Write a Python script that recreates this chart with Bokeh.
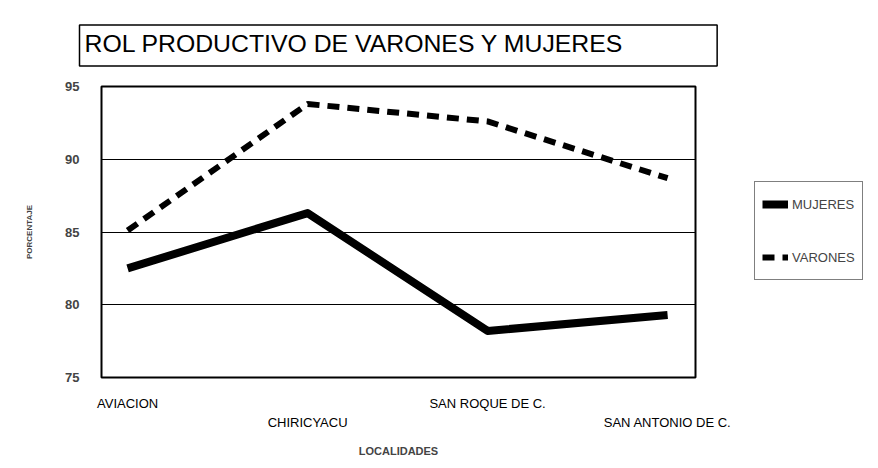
from bokeh.plotting import figure
from bokeh.models import (Range1d, FixedTicker, LinearAxis, Title, Legend, LegendItem)
from bokeh.embed import file_html
from bokeh.resources import INLINE

localidades = ["AVIACION", "CHIRICYACU", "SAN ROQUE DE C.", "SAN ANTONIO DE C."]
mujeres = [82.5, 86.3, 78.2, 79.3]
varones = [85.1, 93.8, 92.6, 88.7]
y_ticks = [75, 80, 85, 90, 95]
title_text = "ROL PRODUCTIVO DE VARONES Y MUJERES"

FONT = "Liberation Sans"
idx = list(range(len(localidades)))

p = figure(output_backend="svg", toolbar_location=None,
           x_range=Range1d(-0.145, 3.155), y_range=Range1d(75, 95),
           x_axis_type=None, min_border_left=101, min_border_top=86,
           min_border_bottom=75, min_border_right=0,
           frame_width=594, frame_height=291)
p.outline_line_color = "black"
p.outline_line_width = 2
p.background_fill_color = "white"
p.border_fill_color = "white"
p.xgrid.visible = False
p.ygrid.ticker = FixedTicker(ticks=y_ticks)
p.ygrid.grid_line_color = "black"
p.ygrid.grid_line_width = 1.2

# y axis
ya = p.yaxis[0]
ya.ticker = FixedTicker(ticks=y_ticks)
ya.axis_line_color = None
ya.major_tick_line_color = None
ya.minor_tick_line_color = None
ya.major_label_text_font = FONT
ya.major_label_text_font_size = "13px"
ya.major_label_text_font_style = "bold"
ya.major_label_standoff = 16
ya.axis_label = "PORCENTAJE"
ya.axis_label_text_font = FONT
ya.axis_label_text_font_size = "8px"
ya.axis_label_text_font_style = "bold"
ya.axis_label_standoff = 28

# x axes (staggered labels)
xa1 = LinearAxis(ticker=FixedTicker(ticks=[0, 2]),
                 major_label_overrides={0: localidades[0], 2: localidades[2]})
xa2 = LinearAxis(ticker=FixedTicker(ticks=[1, 3]),
                 major_label_overrides={1: localidades[1], 3: localidades[3]})
for a in (xa1, xa2):
    a.axis_line_color = None
    a.major_tick_line_color = None
    a.minor_tick_line_color = None
    a.major_label_text_font = FONT
    a.major_label_text_font_size = "13px"
    a.major_label_text_color = "black"
xa1.major_label_standoff = 12
xa2.major_label_standoff = -5
xa2.axis_label = "LOCALIDADES"
xa2.axis_label_text_font = FONT
xa2.axis_label_text_font_size = "11px"
xa2.axis_label_text_font_style = "bold"
xa2.axis_label_standoff = 12
p.add_layout(xa1, "below")
p.add_layout(xa2, "below")

r_m = p.line(idx, mujeres, line_color="black", line_width=8, line_join="round")
r_v = p.line(idx, varones, line_color="black", line_width=6, line_dash="12 8")

legend = Legend(items=[LegendItem(label="MUJERES", renderers=[r_m]),
                       LegendItem(label="VARONES", renderers=[r_v])],
                location=(59, 97), orientation="vertical",
                label_text_font=FONT, label_text_font_size="13px",
                label_height=30, glyph_height=30,
                border_line_color="black", border_line_width=1.5,
                background_fill_color="white", background_fill_alpha=1,
                glyph_width=26, padding=7, spacing=23, label_standoff=4,
                margin=0)
p.add_layout(legend, "right")
p.min_border_right = 167

p.title = Title(text=title_text, text_font=FONT, text_font_size="24.8px",
                text_font_style="normal", text_color="black", align="left",
                offset=-22, standoff=41,
                border_line_color="black", border_line_width=1.5,
                background_fill_color="white", padding=(5, 93, 5, 9))

open("out.html", "w").write(file_html(p, INLINE))
